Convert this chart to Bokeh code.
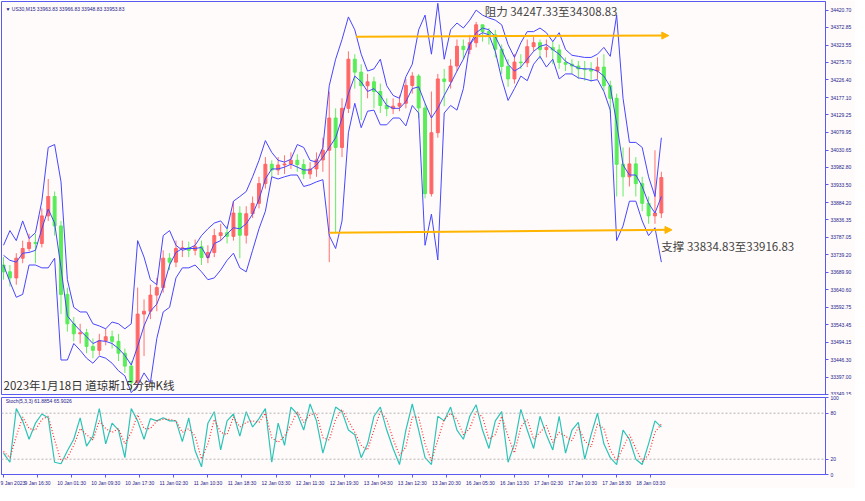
from bokeh.plotting import figure
from bokeh.layouts import column
from bokeh.models import (Range1d, FixedTicker, NumeralTickFormatter, Label, Arrow,
                          NormalHead, Span, ColumnDataSource)
from bokeh.embed import file_html
from bokeh.resources import INLINE

# ---------------- data (US30 M15, one candle per 6 bars) ----------------
open_ = [33710, 33691, 33674, 33729, 33756, 33773, 33770, 33847, 33901, 33819,
         33628, 33546, 33518, 33521, 33483, 33472, 33499, 33510, 33497, 33464,
         33428, 33382, 33573, 33581, 33626, 33647, 33729, 33718, 33756, 33758,
         33751, 33761, 33731, 33745, 33792, 33800, 33790, 33855, 33793, 33853,
         33882, 33937, 33991, 33975, 33989, 33992, 34002, 33990, 33964, 33978,
         34003, 34030, 34120, 34038, 34147, 34284, 34248, 34210, 34221, 34194,
         34155, 34146, 34153, 34161, 34211, 34237, 34148, 33909, 34079, 34229,
         34222, 34265, 34320, 34311, 34330, 34380, 34361, 34352, 34312, 34264,
         34229, 34276, 34274, 34319, 34330, 34311, 34317, 34310, 34275, 34270,
         34265, 34257, 34255, 34251, 34262, 34210, 34175, 33991, 33956, 33992,
         33937, 33882, 33847, 33855]
close = [33691, 33674, 33729, 33756, 33773, 33770, 33847, 33901, 33819, 33628,
         33546, 33518, 33521, 33483, 33472, 33499, 33510, 33497, 33464, 33428,
         33382, 33573, 33581, 33626, 33647, 33729, 33718, 33756, 33758, 33751,
         33761, 33731, 33745, 33792, 33800, 33790, 33855, 33793, 33853, 33882,
         33937, 33991, 33975, 33989, 33992, 34002, 33990, 33964, 33978, 34003,
         34030, 34120, 34038, 34147, 34284, 34248, 34210, 34221, 34194, 34155,
         34146, 34153, 34161, 34211, 34237, 34148, 33909, 34079, 34229, 34222,
         34265, 34320, 34311, 34330, 34380, 34361, 34352, 34312, 34264, 34229,
         34276, 34274, 34319, 34330, 34311, 34317, 34310, 34275, 34270, 34265,
         34257, 34255, 34251, 34262, 34210, 34175, 33991, 33956, 33992, 33937,
         33882, 33847, 33855, 33953.83]
high = [33732, 33710, 33743, 33778, 33797, 33797, 33868, 33950, 33915, 33833,
        33647, 33565, 33546, 33532, 33505, 33518, 33532, 33527, 33518, 33477,
        33442, 33647, 33614, 33655, 33674, 33751, 33743, 33778, 33778, 33775,
        33781, 33778, 33765, 33811, 33825, 33819, 33888, 33874, 33874, 33901,
        33956, 34011, 34002, 34011, 34016, 34024, 34019, 34005, 33997, 34024,
        34065, 34194, 34147, 34175, 34306, 34298, 34270, 34243, 34235, 34216,
        34175, 34175, 34183, 34229, 34248, 34243, 34161, 34194, 34243, 34257,
        34284, 34339, 34339, 34352, 34388, 34380, 34371, 34366, 34325, 34284,
        34298, 34298, 34339, 34347, 34339, 34339, 34333, 34325, 34289, 34284,
        34279, 34279, 34276, 34289, 34298, 34224, 34188, 34038, 34038, 34011,
        33956, 33901, 34030, 33970]
low = [33669, 33650, 33655, 33715, 33748, 33715, 33759, 33833, 33792, 33573,
       33524, 33497, 33491, 33464, 33450, 33458, 33486, 33477, 33442, 33409,
       33360, 33368, 33456, 33559, 33581, 33633, 33696, 33704, 33732, 33732,
       33737, 33710, 33715, 33732, 33778, 33770, 33778, 33729, 33770, 33841,
       33868, 33923, 33956, 33961, 33964, 33978, 33970, 33950, 33950, 33956,
       33970, 33718, 33800, 34011, 34134, 34202, 34114, 34175, 34147, 34134,
       34125, 34131, 34139, 34147, 34188, 34120, 33896, 33901, 34065, 34153,
       34202, 34251, 34284, 34298, 34317, 34333, 34325, 34289, 34243, 34207,
       34216, 34257, 34262, 34306, 34284, 34289, 34270, 34257, 34251, 34243,
       34229, 34224, 34221, 34229, 34196, 34134, 33901, 33901, 33929, 33901,
       33860, 33825, 33825, 33841]
bb_upper = [33765, 33806, 33778, 33833, 33784, 33800, 33888, 34038, 34046, 33942,
            33669, 33592, 33579, 33579, 33546, 33540, 33532, 33551, 33546, 33532,
            33546, 33778, 33732, 33669, 33655, 33792, 33806, 33765, 33751, 33756,
            33765, 33792, 33811, 33827, 33833, 33811, 33888, 33901, 33915, 33956,
            34002, 34057, 34024, 34002, 33997, 34005, 34046, 34038, 34002, 33997,
            34038, 34210, 34284, 34339, 34402, 34366, 34298, 34251, 34257, 34284,
            34210, 34183, 34175, 34235, 34270, 34366, 34407, 34298, 34440, 34284,
            34366, 34385, 34371, 34393, 34421, 34407, 34399, 34393, 34380, 34325,
            34289, 34330, 34361, 34361, 34371, 34358, 34333, 34358, 34311, 34295,
            34292, 34289, 34289, 34298, 34317, 34292, 34407, 34175, 34052, 34052,
            34038, 33956, 33901, 34065]
bb_middle = [33737, 33723, 33718, 33743, 33745, 33751, 33811, 33866, 33827, 33702,
             33568, 33546, 33527, 33510, 33491, 33499, 33497, 33491, 33477, 33458,
             33431, 33483, 33540, 33581, 33601, 33647, 33710, 33745, 33756, 33756,
             33756, 33759, 33729, 33770, 33778, 33797, 33814, 33811, 33825, 33852,
             33893, 33950, 33978, 33978, 33983, 33991, 33983, 33975, 33975, 33989,
             34011, 34038, 34065, 34120, 34188, 34237, 34221, 34194, 34202, 34183,
             34155, 34147, 34147, 34166, 34202, 34207, 34161, 34120, 34147, 34183,
             34216, 34251, 34284, 34325, 34358, 34371, 34366, 34347, 34311, 34270,
             34251, 34262, 34284, 34306, 34320, 34325, 34311, 34298, 34278, 34268,
             34259, 34257, 34257, 34251, 34237, 34207, 34106, 33989, 33961, 33961,
             33929, 33882, 33855, 33901]
bb_lower = [33710, 33663, 33620, 33628, 33710, 33710, 33702, 33702, 33729, 33445,
            33445, 33491, 33472, 33450, 33436, 33456, 33450, 33436, 33415, 33401,
            33354, 33374, 33409, 33382, 33505, 33579, 33592, 33674, 33702, 33702,
            33710, 33691, 33669, 33674, 33696, 33723, 33743, 33702, 33691, 33751,
            33811, 33860, 33956, 33950, 33956, 33961, 33961, 33929, 33934, 33942,
            33948, 33792, 33756, 33833, 34079, 34161, 34093, 34139, 34142, 34101,
            34101, 34120, 34120, 34098, 34155, 34134, 33765, 33852, 33724, 34134,
            34155, 34142, 34202, 34325, 34347, 34358, 34352, 34306, 34229, 34169,
            34202, 34237, 34224, 34270, 34292, 34262, 34284, 34229, 34243, 34243,
            34232, 34229, 34224, 34227, 34194, 34142, 33778, 33819, 33888, 33888,
            33833, 33792, 33814, 33718]
stoch_k = [28, 16, 86, 70, 46, 67, 79, 74, 16, 14,
           31, 46, 74, 37, 50, 86, 40, 67, 58, 22,
           86, 70, 46, 73, 70, 74, 70, 70, 43, 74,
           31, 10, 67, 82, 32, 70, 79, 50, 82, 62,
           73, 86, 16, 67, 38, 88, 79, 58, 92, 70,
           28, 58, 88, 82, 58, 52, 22, 40, 76, 88,
           58, 34, 13, 58, 92, 58, 22, 13, 76, 70,
           88, 58, 46, 76, 91, 58, 34, 70, 82, 16,
           40, 85, 58, 34, 76, 52, 32, 76, 28, 58,
           68, 20, 52, 80, 40, 22, 13, 58, 46, 20,
           13, 40, 70, 61.9]
stoch_d = [30, 22, 50, 75, 60, 58, 72, 76, 45, 18,
           22, 38, 60, 52, 45, 70, 60, 55, 60, 40,
           55, 78, 60, 60, 70, 72, 72, 70, 55, 60,
           50, 20, 40, 72, 55, 52, 75, 62, 68, 70,
           68, 80, 48, 42, 50, 65, 82, 68, 78, 80,
           48, 45, 72, 85, 70, 55, 38, 32, 58, 82,
           72, 46, 25, 36, 75, 75, 40, 18, 45, 72,
           80, 72, 52, 60, 82, 75, 46, 52, 76, 50,
           28, 62, 72, 46, 55, 64, 42, 55, 50, 44,
           62, 44, 36, 66, 60, 32, 18, 35, 52, 34,
           17, 26, 55, 65.9]

price_ticks = [34420.70, 34372.85, 34323.55, 34275.70, 34226.40, 34177.10, 34129.25,
               34079.95, 34030.65, 33982.80, 33933.50, 33884.20, 33836.35, 33787.05,
               33739.20, 33689.90, 33640.60, 33592.75, 33543.45, 33494.15, 33446.30,
               33397.00, 33349.15]
stoch_ticks = [0, 20, 80, 100]
time_ticks = [0, 32, 64, 96, 128, 160, 192, 224, 256, 288, 320, 352, 384, 416,
              448, 480, 512, 544, 576, 608]
time_labels = ["9 Jan 2023", "9 Jan 16:30", "10 Jan 01:30", "10 Jan 09:30", "10 Jan 17:30",
               "11 Jan 02:30", "11 Jan 10:30", "11 Jan 18:30", "12 Jan 03:30", "12 Jan 11:30",
               "12 Jan 19:30", "13 Jan 04:30", "13 Jan 12:30", "13 Jan 20:30", "16 Jan 05:30",
               "16 Jan 13:30", "17 Jan 02:30", "17 Jan 10:30", "17 Jan 18:30", "18 Jan 03:30"]

resist_bar = [331, 625]
resist_price = [34347, 34350]
support_bar = [306, 628]
support_price = [33800, 33808]
last_price = 33953.83

# ---------------- style ----------------
BG = "#fffbfa"
FRAME = "#5a5af0"
AXTXT = "#22228c"
UP = "#ff6262"
DOWN = "#52ec52"
BAND = "#4646ff"
ORANGE = "#ffb400"
SMALL = "Liberation Sans"
CJK = "Noto Sans CJK SC"

bars = [6 * i for i in range(len(close))]
colors = [UP if c >= o else DOWN for o, c in zip(open_, close)]
src = ColumnDataSource(dict(x=bars, o=open_, c=close, h=high, l=low, col=colors,
                            up=bb_upper, mid=bb_middle, lo=bb_lower, k=stoch_k, d=stoch_d))

W = 855
xr = Range1d(-1.9, 772.2)

p = figure(width=W, height=395, x_range=xr, y_range=Range1d(33346, 34445),
           x_axis_location=None, y_axis_location="right", output_backend="svg",
           toolbar_location=None, min_border_left=1, min_border_right=30,
           min_border_top=1, min_border_bottom=0)
p.background_fill_color = BG
p.border_fill_color = BG
p.outline_line_color = FRAME
p.grid.visible = False

p.segment('x', 'h', 'x', 'l', line_color='col', source=src, line_width=1, line_alpha=0.9)
p.vbar(x='x', top='o', bottom='c', width=2.8, fill_color='col', line_color='col',
       fill_alpha=0.9, line_alpha=0.9, source=src)
for name in ('up', 'mid', 'lo'):
    p.line('x', name, source=src, line_color=BAND, line_width=1)

ay = p.yaxis[0]
ay.ticker = FixedTicker(ticks=price_ticks)
ay.formatter = NumeralTickFormatter(format="0.00")

p.add_layout(Arrow(end=NormalHead(size=7, fill_color=ORANGE, line_color=ORANGE),
                   x_start=resist_bar[0], y_start=resist_price[0],
                   x_end=resist_bar[1], y_end=resist_price[1],
                   line_color=ORANGE, line_width=2))
p.add_layout(Arrow(end=NormalHead(size=7, fill_color=ORANGE, line_color=ORANGE),
                   x_start=support_bar[0], y_start=support_price[0],
                   x_end=support_bar[1], y_end=support_price[1],
                   line_color=ORANGE, line_width=2))

p.add_layout(Label(x=452, y=34418, text="阻力 34247.33至34308.83", text_font=CJK,
                   text_font_size="11.5px", text_color="#444444", text_baseline="middle"))
p.add_layout(Label(x=618, y=33764, text="支撑 33834.83至33916.83", text_font=CJK,
                   text_font_size="11.5px", text_color="#444444", text_baseline="middle"))
p.add_layout(Label(x=0, y=33374, text="2023年1月18日 道琼斯15分钟K线", text_font=CJK,
                   text_font_size="11.5px", text_color="#333333", text_baseline="middle"))
p.add_layout(Label(x=-1.9, y=34445, x_offset=4, y_offset=-7,
                   text="▼ US30,M15  33963.83 33966.83 33948.83 33953.83",
                   text_font=SMALL, text_font_size="5px", text_color=AXTXT,
                   text_baseline="middle"))
p.add_layout(Label(x=772.2, y=last_price, x_offset=1, text="33953.83", text_font=SMALL,
                   text_font_size="5px", text_color="white", text_baseline="middle",
                   background_fill_color="#1414a0"))

p2 = figure(width=W, height=93, x_range=xr, y_range=Range1d(0, 100.5),
            y_axis_location="right", output_backend="svg", toolbar_location=None,
            min_border_left=1, min_border_right=30, min_border_top=2, min_border_bottom=0)
p2.background_fill_color = BG
p2.border_fill_color = BG
p2.outline_line_color = FRAME
p2.grid.visible = False
for lvl in (20, 80):
    p2.add_layout(Span(location=lvl, dimension="width", line_color="#b4b4b4",
                       line_dash="2 2", line_width=1))
p2.line('x', 'k', source=src, line_color="#2cc4b8", line_width=1.2)
p2.line('x', 'd', source=src, line_color="#ff2a2a", line_width=1.2, line_dash="1 2")
p2.add_layout(Label(x=2, y=95.7, text="Stoch(5,3,3) 61.8854 65.9026", text_font=SMALL,
                    text_font_size="5px", text_color=AXTXT, text_baseline="middle"))

ay2 = p2.yaxis[0]
ay2.ticker = FixedTicker(ticks=stoch_ticks)
ax2 = p2.xaxis[0]
ax2.ticker = FixedTicker(ticks=time_ticks)
ax2.major_label_overrides = {t: s for t, s in zip(time_ticks, time_labels)}
ax2.major_label_text_align = "left"

for ax in (ay, ay2, ax2):
    ax.major_label_text_font_size = "5px"
    ax.major_label_text_color = AXTXT
    ax.major_label_text_font = SMALL
    ax.axis_line_color = FRAME
    ax.major_tick_line_color = FRAME
    ax.major_tick_out = 3
    ax.major_tick_in = 0
    ax.minor_tick_line_color = None
    ax.major_label_standoff = 2

layout = column(p, p2, spacing=0)
open("out.html", "w").write(file_html(layout, INLINE))
